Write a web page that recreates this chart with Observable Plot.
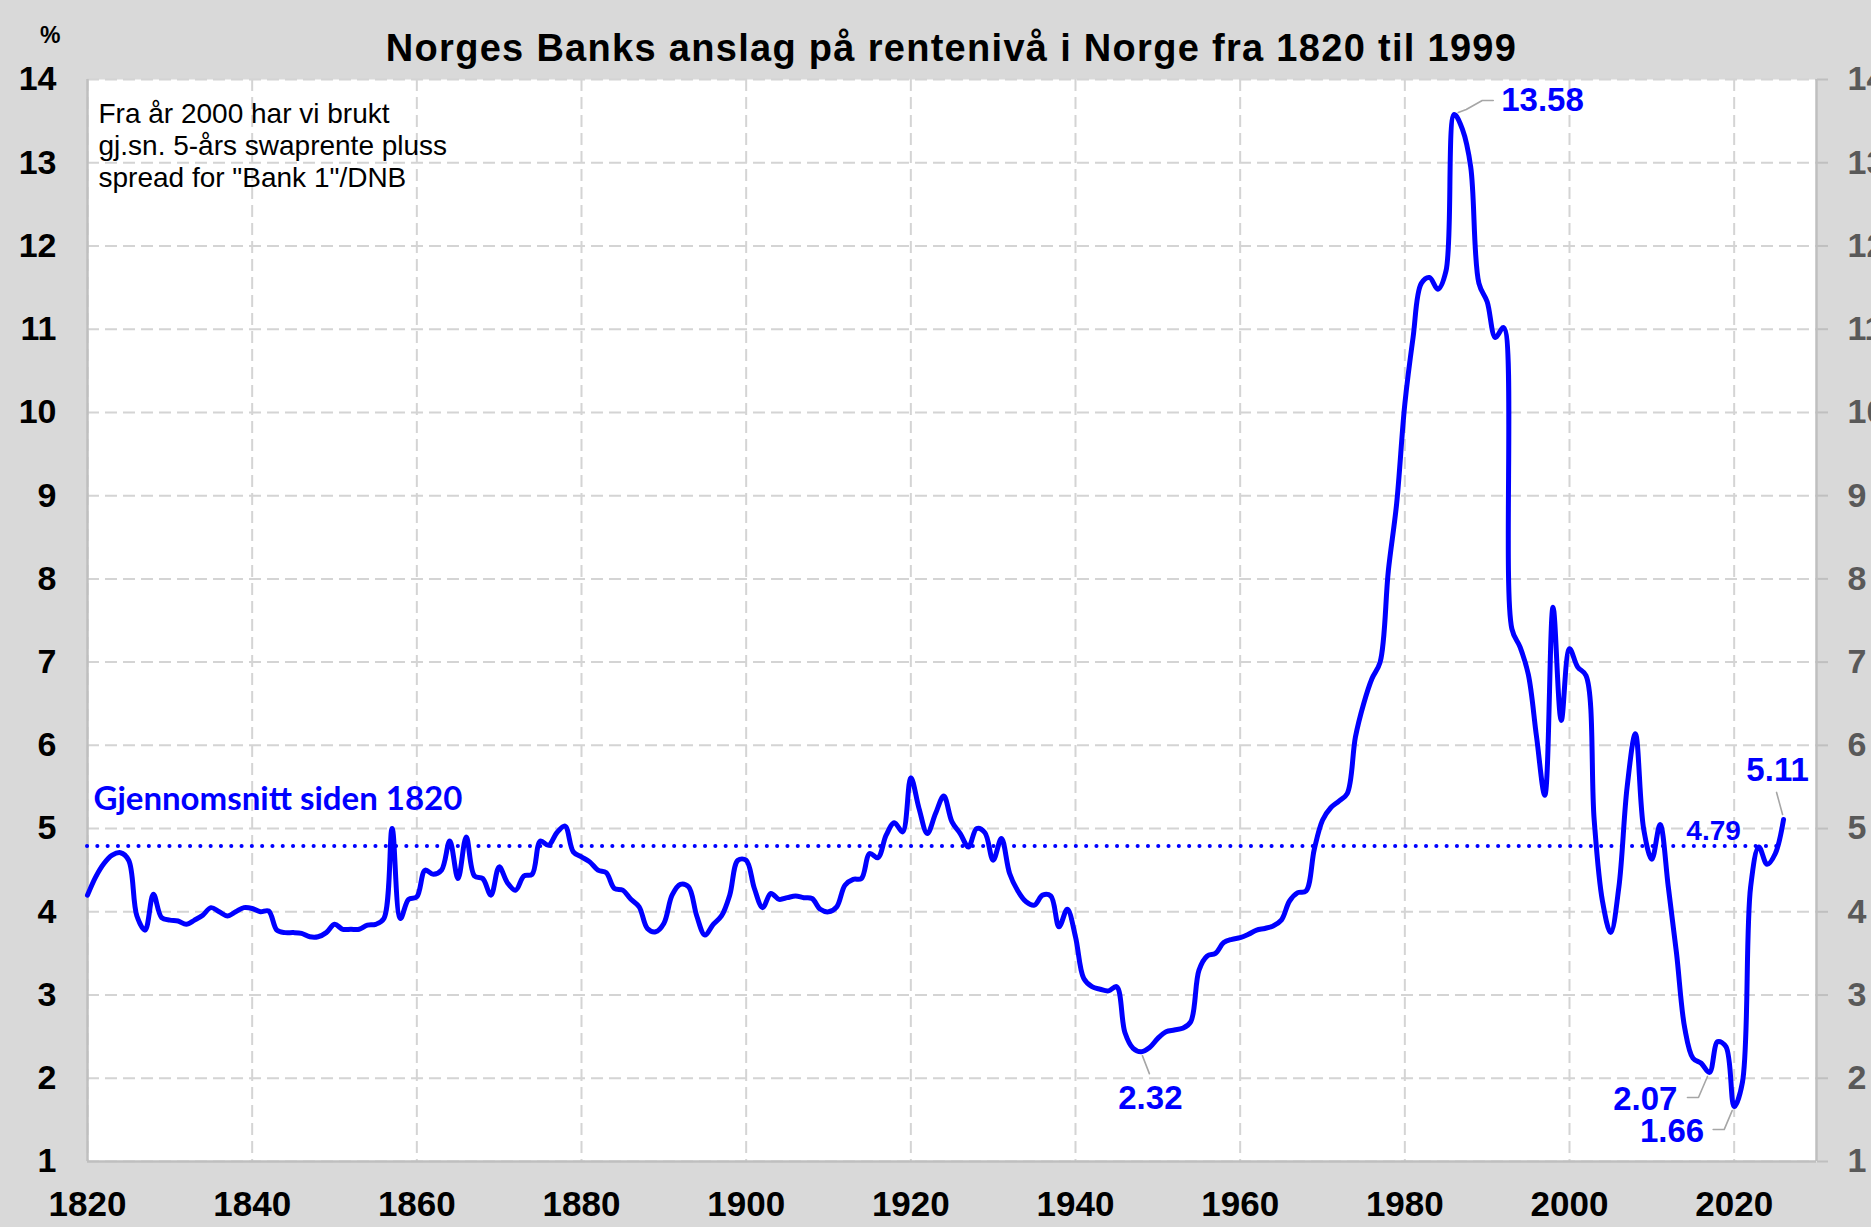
<!DOCTYPE html>
<html><head><meta charset="utf-8">
<script src="https://cdn.jsdelivr.net/npm/d3@7"></script>
<script src="https://cdn.jsdelivr.net/npm/@observablehq/plot@0.6"></script>
<style>
html,body{margin:0;padding:0;overflow:hidden;background:#d9d9d9;}
#wrap{position:relative;width:1871px;height:1227px;background:#d9d9d9;overflow:hidden;font-family:"Liberation Sans",Arial,sans-serif;}
#head{position:relative;height:60px;}
#title{position:absolute;left:87px;width:1729px;top:29px;line-height:38px;text-align:center;font-weight:bold;font-size:38px;letter-spacing:1.3px;color:#000;white-space:nowrap;}
#pct{position:absolute;left:40px;top:24px;font-size:23px;font-weight:bold;line-height:23px;color:#000;}
#chart svg{display:block;}
</style></head><body>
<div id="wrap"><div id="head"><div id="pct"></div><div id="title"></div></div><div id="chart"></div></div>
<script>
const titleText = "Norges Banks anslag på rentenivå i Norge fra 1820 til 1999";
const unitLabel = "%";
const startYear = 1820;
const rates = [
  4.20, 4.42, 4.58, 4.68, 4.71, 4.62, 3.95, 3.78, 4.21, 3.93,
  3.90, 3.89, 3.85, 3.90, 3.96, 4.05, 4.00, 3.95, 4.00, 4.05,
  4.04, 4.00, 4.01, 3.78, 3.75, 3.75, 3.74, 3.70, 3.70, 3.75,
  3.85, 3.79, 3.79, 3.79, 3.84, 3.85, 3.92, 5.00, 3.92, 4.15,
  4.18, 4.50, 4.45, 4.50, 4.85, 4.40, 4.90, 4.43, 4.40, 4.20,
  4.54, 4.35, 4.26, 4.43, 4.45, 4.85, 4.80, 4.95, 5.03, 4.72,
  4.66, 4.60, 4.50, 4.47, 4.28, 4.26, 4.15, 4.06, 3.80, 3.76,
  3.86, 4.20, 4.33, 4.30, 3.95, 3.72, 3.85, 3.95, 4.20, 4.62,
  4.62, 4.28, 4.05, 4.22, 4.15, 4.17, 4.19, 4.17, 4.16, 4.03,
  4.00, 4.06, 4.32, 4.39, 4.40, 4.70, 4.65, 4.92, 5.07, 4.96,
  5.61, 5.24, 4.94, 5.18, 5.39, 5.08, 4.94, 4.78, 5.00, 4.95,
  4.62, 4.88, 4.46, 4.25, 4.12, 4.08, 4.20, 4.19, 3.82, 4.03,
  3.70, 3.20, 3.10, 3.07, 3.05, 3.10, 2.55, 2.36, 2.32, 2.37,
  2.48, 2.56, 2.58, 2.60, 2.68, 3.30, 3.47, 3.50, 3.63, 3.67,
  3.69, 3.73, 3.78, 3.80, 3.83, 3.90, 4.13, 4.23, 4.25, 4.75,
  5.10, 5.25, 5.33, 5.42, 6.10, 6.50, 6.80, 7.00, 8.10, 8.90,
  10.10, 10.90, 11.55, 11.62, 11.48, 11.70, 13.58, 13.40, 12.95, 11.55,
  11.33, 10.90, 11.02, 7.40, 7.18, 6.85, 6.10, 5.40, 7.66, 6.30,
  7.16, 6.94, 6.84, 5.10, 4.13, 3.75, 4.30, 5.50, 6.14, 5.00,
  4.63, 5.05, 4.30, 3.50, 2.60, 2.24, 2.18, 2.07, 2.44, 2.38,
  1.66, 1.95, 4.30, 4.78, 4.57, 4.70, 5.11
];
const years = rates.map((_, i) => startYear + i);
const xTicks = [1820, 1840, 1860, 1880, 1900, 1920, 1940, 1960, 1980, 2000, 2020];
const yTicks = [1, 2, 3, 4, 5, 6, 7, 8, 9, 10, 11, 12, 13, 14];
const xDomain = [1820, 2030];
const yDomain = [1, 14];
const averageValue = 4.79;
const averageStartYear = 1820;
const averageEndYear = 2026;
const averageLabel = "Gjennomsnitt siden 1820";
const noteLines = ["Fra år 2000 har vi brukt", "gj.sn. 5-års swaprente pluss", "spread for \"Bank 1\"/DNB"];
const annoYears = [1986, 1948, 2017, 2020, 2026];
const annoLabels = ["13.58", "2.32", "2.07", "1.66", "5.11"];

// styling / placement of annotations (pixels)
const annoStyle = [
  {dx: 47, dy: -14, anchor: "start", leader: [[4, -2], [12, -5], [28, -14], [39, -14]]},
  {dx: 9, dy: 47, anchor: "middle", leader: [[1, 4], [8, 22]]},
  {dx: -32, dy: 27, anchor: "end", leader: [[-2, 4], [-11, 25], [-22, 25]]},
  {dx: -30, dy: 25, anchor: "end", leader: [[-2, 4], [-10, 23], [-21, 23]]},
  {dx: -6, dy: -49, anchor: "middle", leader: [[-1, -5], [-7, -27]]}
];

document.getElementById("title").textContent = titleText;
document.getElementById("pct").textContent = unitLabel;

const series = years.map((y, i) => ({year: y, value: rates[i]}));
const annos = annoYears.map((y, i) => ({year: y, value: rates[years.indexOf(y)], label: annoLabels[i], style: annoStyle[i]}));

const FONT = "Liberation Sans, Arial, sans-serif";
const BLUE = "#0000ff";

const annoMarks = annos.flatMap(d => [
  Plot.vector([d], {
    x: "year", y: "value", length: 1, rotate: 0, anchor: "start",
    stroke: "#a6a6a6", strokeWidth: 1.6, fill: "none",
    shape: {draw(ctx) { const p = d.style.leader; ctx.moveTo(p[0][0], p[0][1]); for (let k = 1; k < p.length; k++) ctx.lineTo(p[k][0], p[k][1]); }}
  }),
  Plot.text([d], {
    x: "year", y: "value", text: "label", dx: d.style.dx, dy: d.style.dy,
    textAnchor: d.style.anchor, fill: BLUE, fontSize: 33, fontWeight: "bold", fontFamily: FONT
  })
]);

const chart = Plot.plot({
  width: 1871,
  height: 1167,
  marginLeft: 87,
  marginRight: 55,
  marginTop: 19,
  marginBottom: 66,
  style: {background: "transparent", fontFamily: FONT, overflow: "visible"},
  x: {domain: xDomain},
  y: {domain: yDomain},
  marks: [
    Plot.frame({fill: "white", stroke: null}),
    Plot.ruleY(yTicks, {stroke: "#d4d4d4", strokeWidth: 2, strokeDasharray: "12,6"}),
    Plot.ruleX(xTicks, {stroke: "#d4d4d4", strokeWidth: 2, strokeDasharray: "12,6"}),
    Plot.ruleX([xDomain[0], xDomain[1]], {stroke: "#bfbfbf", strokeWidth: 2.5}),
    Plot.ruleY([yDomain[0]], {stroke: "#bfbfbf", strokeWidth: 2.5}),
    Plot.ruleY([averageValue], {x1: averageStartYear, x2: averageEndYear, stroke: BLUE, strokeWidth: 4, strokeDasharray: "0.1,10.2", strokeLinecap: "round"}),
    Plot.text([{year: averageStartYear, value: averageValue}], {
      x: "year", y: "value", text: () => averageLabel, dx: 6, dy: -47, textAnchor: "start",
      fill: BLUE, fontSize: 33, fontWeight: "bold", fontFamily: "Lato, Carlito, sans-serif"
    }),
    Plot.text([{year: averageEndYear, value: averageValue}], {
      x: "year", y: "value", text: d => d.value.toFixed(2), dx: -70, dy: -15, textAnchor: "middle",
      fill: BLUE, fontSize: 28, fontWeight: "bold", fontFamily: FONT
    }),
    Plot.line(series, {x: "year", y: "value", stroke: BLUE, strokeWidth: 5, curve: "catmull-rom", strokeLinejoin: "round"}),
    ...annoMarks,
    Plot.text([noteLines.join("\n")], {
      frameAnchor: "top-left", dx: 11, dy: 21, lineAnchor: "top", textAnchor: "start",
      fontSize: 28, lineHeight: 1.14, fill: "#000", fontFamily: FONT
    }),
    Plot.axisY({anchor: "left", ticks: yTicks, tickSize: 0, tickPadding: 31, label: null, fontSize: 34, fontWeight: "bold", fill: "#000", tickFormat: d => String(d)}),
    Plot.axisY({anchor: "right", ticks: yTicks, tickSize: 11, tickPadding: 20, label: null, fontSize: 34, fontWeight: "bold", fill: "#595959", stroke: "#bfbfbf", strokeWidth: 2, tickFormat: d => String(d)}),
    Plot.axisX({ticks: xTicks, tickSize: 0, tickPadding: 30, label: null, fontSize: 35, fontWeight: "bold", fill: "#000", tickFormat: d => String(d)})
  ]
});
document.getElementById("chart").appendChild(chart);
</script>
</body></html>
